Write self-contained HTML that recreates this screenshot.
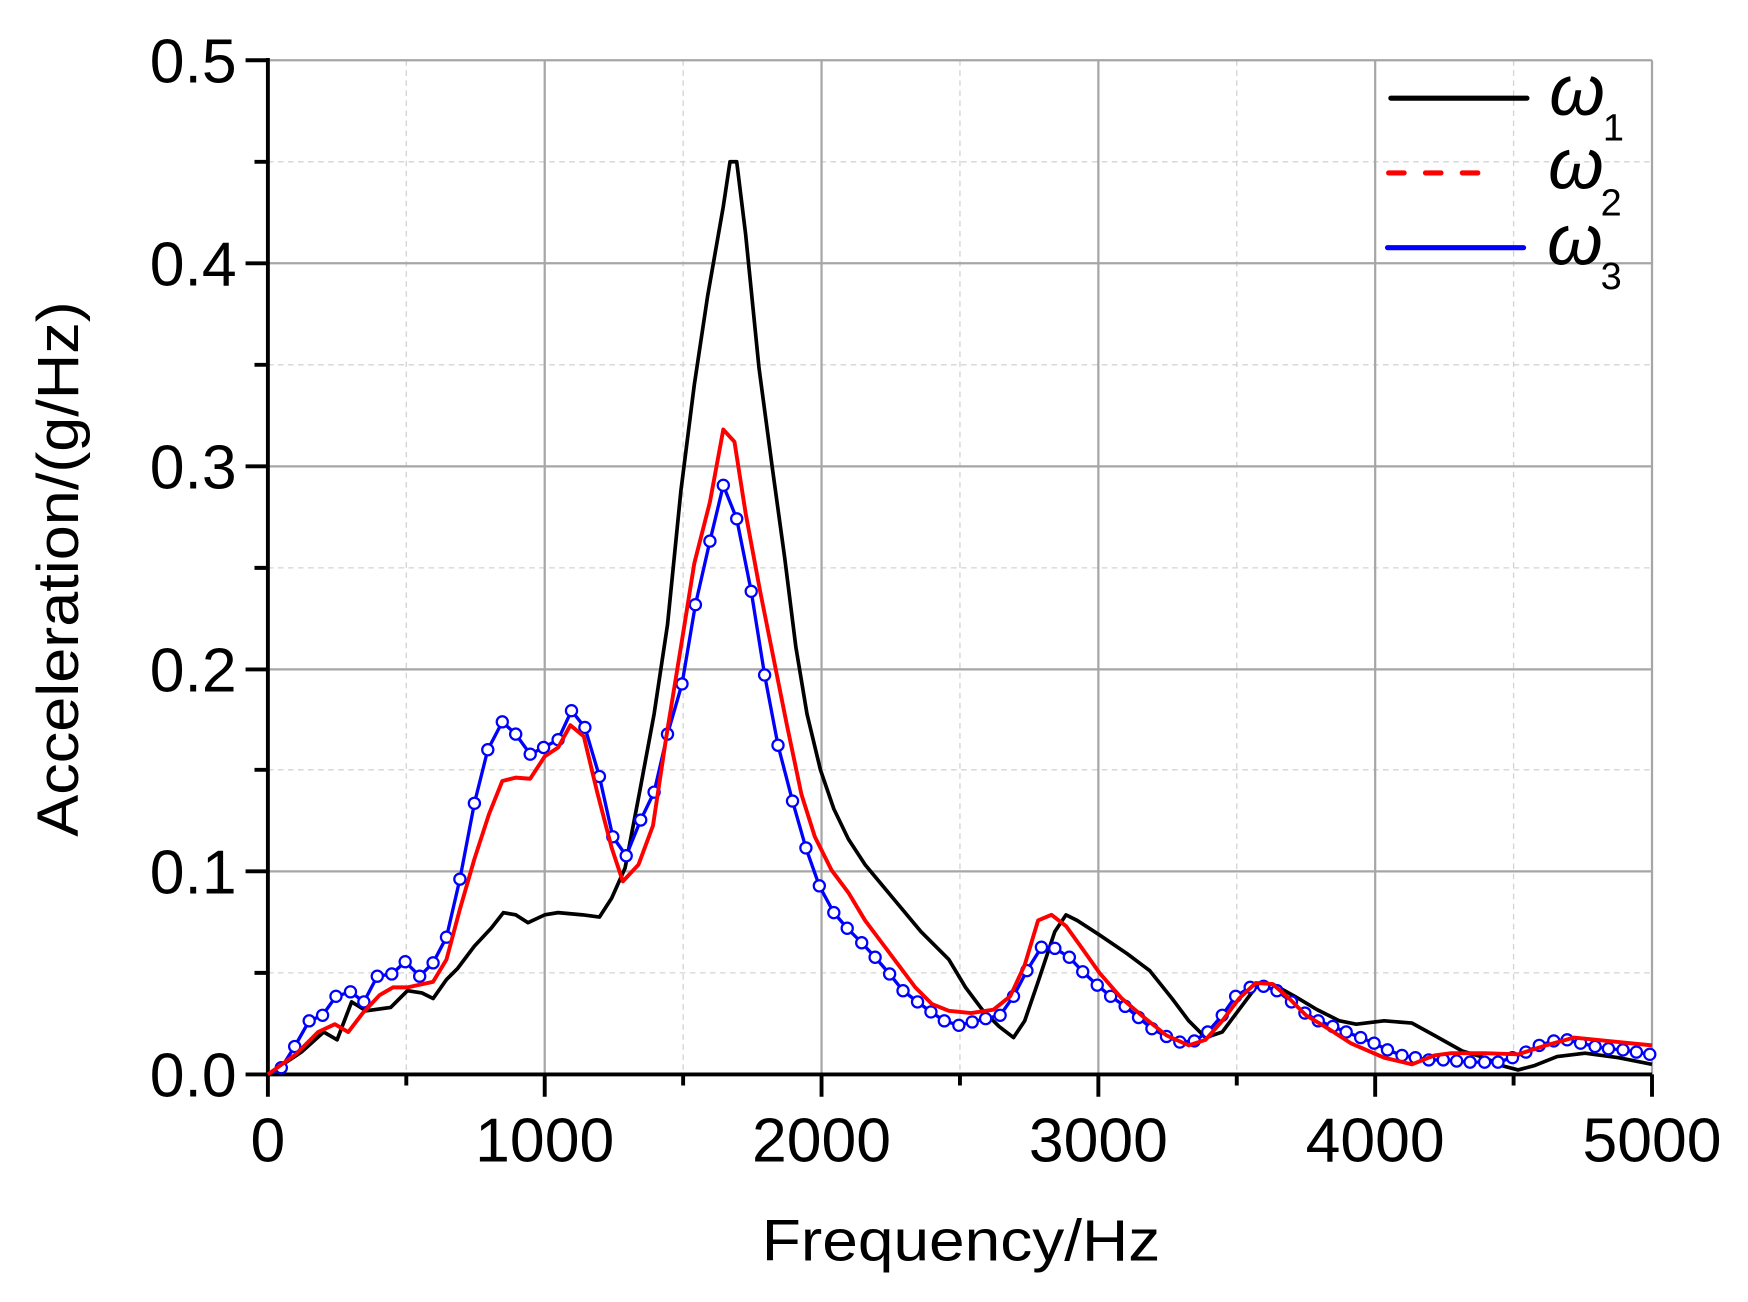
<!DOCTYPE html>
<html><head><meta charset="utf-8"><style>html,body{margin:0;padding:0;background:#fff}svg{display:block}</style></head>
<body>
<svg width="1748" height="1302" viewBox="0 0 1566 1167" preserveAspectRatio="none" xmlns="http://www.w3.org/2000/svg" font-family="Liberation Sans, Arial, sans-serif">
<rect width="1566" height="1167" fill="#fff"/>
<g stroke="#d4d4d4" stroke-width="1.2" stroke-dasharray="5,4">
<line x1="364" y1="54" x2="364" y2="963"/><line x1="612" y1="54" x2="612" y2="963"/><line x1="860" y1="54" x2="860" y2="963"/><line x1="1108" y1="54" x2="1108" y2="963"/><line x1="1356" y1="54" x2="1356" y2="963"/>
<line x1="240" y1="145" x2="1480" y2="145"/><line x1="240" y1="327" x2="1480" y2="327"/><line x1="240" y1="509" x2="1480" y2="509"/><line x1="240" y1="690" x2="1480" y2="690"/><line x1="240" y1="872" x2="1480" y2="872"/>
</g>
<g stroke="#a6a6a6" stroke-width="2">
<line x1="488" y1="54" x2="488" y2="963"/><line x1="736" y1="54" x2="736" y2="963"/><line x1="984" y1="54" x2="984" y2="963"/><line x1="1232" y1="54" x2="1232" y2="963"/><line x1="1480" y1="54" x2="1480" y2="963"/>
<line x1="240" y1="54" x2="1480" y2="54"/><line x1="240" y1="236" x2="1480" y2="236"/><line x1="240" y1="418" x2="1480" y2="418"/><line x1="240" y1="600" x2="1480" y2="600"/><line x1="240" y1="781" x2="1480" y2="781"/>
</g>
<g stroke="#000" stroke-width="3.5" fill="none">
<line x1="240" y1="52" x2="240" y2="965"/><line x1="238" y1="963" x2="1480" y2="963"/>
<path d="M220 54H240M220 236H240M220 418H240M220 600H240M220 781H240M220 963H240M228 145H240M228 327H240M228 509H240M228 690H240M228 872H240"/>
<path d="M240 963V983M488 963V983M736 963V983M984 963V983M1232 963V983M1480 963V983M364 963V973M612 963V973M860 963V973M1108 963V973M1356 963V973"/>
</g>
<g font-size="56" fill="#000" text-anchor="end">
<text x="212" y="74">0.5</text><text x="212" y="256">0.4</text><text x="212" y="438">0.3</text><text x="212" y="620">0.2</text><text x="212" y="801">0.1</text><text x="212" y="983">0.0</text>
</g>
<g font-size="56" fill="#000" text-anchor="middle">
<text x="240" y="1041">0</text><text x="488" y="1041">1000</text><text x="736" y="1041">2000</text><text x="984" y="1041">3000</text><text x="1232" y="1041">4000</text><text x="1480" y="1041">5000</text>
</g>
<text x="861" y="1130" font-size="52" text-anchor="middle" textLength="357" lengthAdjust="spacingAndGlyphs">Frequency/Hz</text>
<text transform="translate(70,510) rotate(-90)" font-size="52" text-anchor="middle" textLength="480" lengthAdjust="spacingAndGlyphs">Acceleration/(g/Hz)</text>
<g fill="none" stroke-linejoin="round">
<polyline stroke="#000" stroke-width="3.3" points="240,963 270,943 290,925 302,932 315,898 328,906 350,903 365,888 378,890 388,895 400,878 410,868 425,848 440,832 451,818 462,820 473,827 488,820 500,818 522,820 537,822 548,805 560,778 573,710 586,640 598,560 610,440 622,345 634,265 648,185 654,145 660,145 668,210 680,330 692,420 703,500 713,580 723,640 735,690 747,725 760,752 775,775 800,805 825,835 850,860 865,885 880,905 895,920 908,930 918,915 930,880 945,835 955,820 965,825 985,838 1010,855 1030,870 1050,895 1065,915 1080,930 1095,925 1110,905 1125,885 1140,882 1160,893 1180,905 1200,915 1215,918 1240,915 1265,917 1285,928 1310,942 1330,948 1345,955 1360,959 1375,955 1395,947 1420,944 1450,948 1480,954"/>
<polyline stroke="#0000ff" stroke-width="3" points="240,963 252,957 264,938 277,915 289,910 301,893 314,889 326,898 338,875 351,873 363,862 376,875 388,863 400,840 412,788 425,720 437,672 450,647 462,658 475,676 487,670 500,663 512,637 524,652 537,696 549,750 561,767 574,735 586,710 598,658 611,613 623,542 636,485 648,435 660,465 673,530 685,605 697,668 710,718 722,760 734,794 747,818 759,832 772,845 784,858 797,873 809,888 822,898 834,907 846,915 859,919 871,916 883,913 896,910 908,893 920,870 933,849 945,850 958,858 970,871 983,883 995,893 1008,902 1020,912 1032,922 1045,929 1057,934 1070,933 1082,925 1095,910 1107,893 1120,885 1132,884 1144,888 1157,898 1169,908 1181,915 1194,920 1206,925 1219,930 1231,935 1243,941 1256,946 1268,948 1280,950 1293,950 1305,951 1317,952 1330,952 1342,952 1355,948 1367,943 1379,937 1392,933 1404,932 1416,935 1429,938 1441,940 1454,941 1466,943 1478,945"/>
<g stroke="#0000ff" stroke-width="2" fill="#fff">
<circle cx="252" cy="957" r="5"/><circle cx="264" cy="938" r="5"/><circle cx="277" cy="915" r="5"/><circle cx="289" cy="910" r="5"/><circle cx="301" cy="893" r="5"/><circle cx="314" cy="889" r="5"/><circle cx="326" cy="898" r="5"/><circle cx="338" cy="875" r="5"/><circle cx="351" cy="873" r="5"/><circle cx="363" cy="862" r="5"/><circle cx="376" cy="875" r="5"/><circle cx="388" cy="863" r="5"/><circle cx="400" cy="840" r="5"/><circle cx="412" cy="788" r="5"/><circle cx="425" cy="720" r="5"/><circle cx="437" cy="672" r="5"/><circle cx="450" cy="647" r="5"/><circle cx="462" cy="658" r="5"/><circle cx="475" cy="676" r="5"/><circle cx="487" cy="670" r="5"/><circle cx="500" cy="663" r="5"/><circle cx="512" cy="637" r="5"/><circle cx="524" cy="652" r="5"/><circle cx="537" cy="696" r="5"/><circle cx="549" cy="750" r="5"/><circle cx="561" cy="767" r="5"/><circle cx="574" cy="735" r="5"/><circle cx="586" cy="710" r="5"/><circle cx="598" cy="658" r="5"/><circle cx="611" cy="613" r="5"/><circle cx="623" cy="542" r="5"/><circle cx="636" cy="485" r="5"/><circle cx="648" cy="435" r="5"/><circle cx="660" cy="465" r="5"/><circle cx="673" cy="530" r="5"/><circle cx="685" cy="605" r="5"/><circle cx="697" cy="668" r="5"/><circle cx="710" cy="718" r="5"/><circle cx="722" cy="760" r="5"/><circle cx="734" cy="794" r="5"/><circle cx="747" cy="818" r="5"/><circle cx="759" cy="832" r="5"/><circle cx="772" cy="845" r="5"/><circle cx="784" cy="858" r="5"/><circle cx="797" cy="873" r="5"/><circle cx="809" cy="888" r="5"/><circle cx="822" cy="898" r="5"/><circle cx="834" cy="907" r="5"/><circle cx="846" cy="915" r="5"/><circle cx="859" cy="919" r="5"/><circle cx="871" cy="916" r="5"/><circle cx="883" cy="913" r="5"/><circle cx="896" cy="910" r="5"/><circle cx="908" cy="893" r="5"/><circle cx="920" cy="870" r="5"/><circle cx="933" cy="849" r="5"/><circle cx="945" cy="850" r="5"/><circle cx="958" cy="858" r="5"/><circle cx="970" cy="871" r="5"/><circle cx="983" cy="883" r="5"/><circle cx="995" cy="893" r="5"/><circle cx="1008" cy="902" r="5"/><circle cx="1020" cy="912" r="5"/><circle cx="1032" cy="922" r="5"/><circle cx="1045" cy="929" r="5"/><circle cx="1057" cy="934" r="5"/><circle cx="1070" cy="933" r="5"/><circle cx="1082" cy="925" r="5"/><circle cx="1095" cy="910" r="5"/><circle cx="1107" cy="893" r="5"/><circle cx="1120" cy="885" r="5"/><circle cx="1132" cy="884" r="5"/><circle cx="1144" cy="888" r="5"/><circle cx="1157" cy="898" r="5"/><circle cx="1169" cy="908" r="5"/><circle cx="1181" cy="915" r="5"/><circle cx="1194" cy="920" r="5"/><circle cx="1206" cy="925" r="5"/><circle cx="1219" cy="930" r="5"/><circle cx="1231" cy="935" r="5"/><circle cx="1243" cy="941" r="5"/><circle cx="1256" cy="946" r="5"/><circle cx="1268" cy="948" r="5"/><circle cx="1280" cy="950" r="5"/><circle cx="1293" cy="950" r="5"/><circle cx="1305" cy="951" r="5"/><circle cx="1317" cy="952" r="5"/><circle cx="1330" cy="952" r="5"/><circle cx="1342" cy="952" r="5"/><circle cx="1355" cy="948" r="5"/><circle cx="1367" cy="943" r="5"/><circle cx="1379" cy="937" r="5"/><circle cx="1392" cy="933" r="5"/><circle cx="1404" cy="932" r="5"/><circle cx="1416" cy="935" r="5"/><circle cx="1429" cy="938" r="5"/><circle cx="1441" cy="940" r="5"/><circle cx="1454" cy="941" r="5"/><circle cx="1466" cy="943" r="5"/><circle cx="1478" cy="945" r="5"/>
</g>
<polyline stroke="#ff0000" stroke-width="3.5" points="240,963 265,945 285,925 300,918 312,925 325,908 340,892 352,885 365,885 388,880 400,860 412,815 425,770 438,730 450,700 462,697 475,698 488,678 500,670 511,650 523,660 535,710 548,760 558,790 572,775 585,740 597,660 610,580 622,505 636,450 648,385 658,396 668,460 681,530 693,590 705,650 718,712 730,750 745,780 760,800 775,825 790,845 805,865 820,885 835,900 850,906 870,908 890,905 905,893 918,865 930,825 942,820 955,830 968,848 985,872 1005,895 1025,912 1045,928 1065,937 1080,932 1095,915 1110,895 1125,881 1140,882 1155,895 1170,910 1190,922 1210,935 1240,948 1265,954 1285,946 1300,944 1330,944 1360,945 1385,937 1410,930 1440,933 1480,937"/>
</g>
<g stroke-linecap="round" stroke-width="4.5">
<line x1="1246" y1="88" x2="1368" y2="88" stroke="#000"/>
<line x1="1244" y1="155" x2="1330" y2="155" stroke="#ff0000" stroke-dasharray="14,19"/>
<line x1="1243" y1="222" x2="1365" y2="222" stroke="#0000ff"/>
</g>
<g fill="#000" font-style="italic">
<text x="1388" y="103" font-size="64">ω</text><text x="1436" y="126" font-size="34" font-style="normal">1</text>
<text x="1387" y="169" font-size="64">ω</text><text x="1434" y="193" font-size="34" font-style="normal">2</text>
<text x="1386" y="237" font-size="64">ω</text><text x="1434" y="259" font-size="34" font-style="normal">3</text>
</g>
</svg>
</body></html>
